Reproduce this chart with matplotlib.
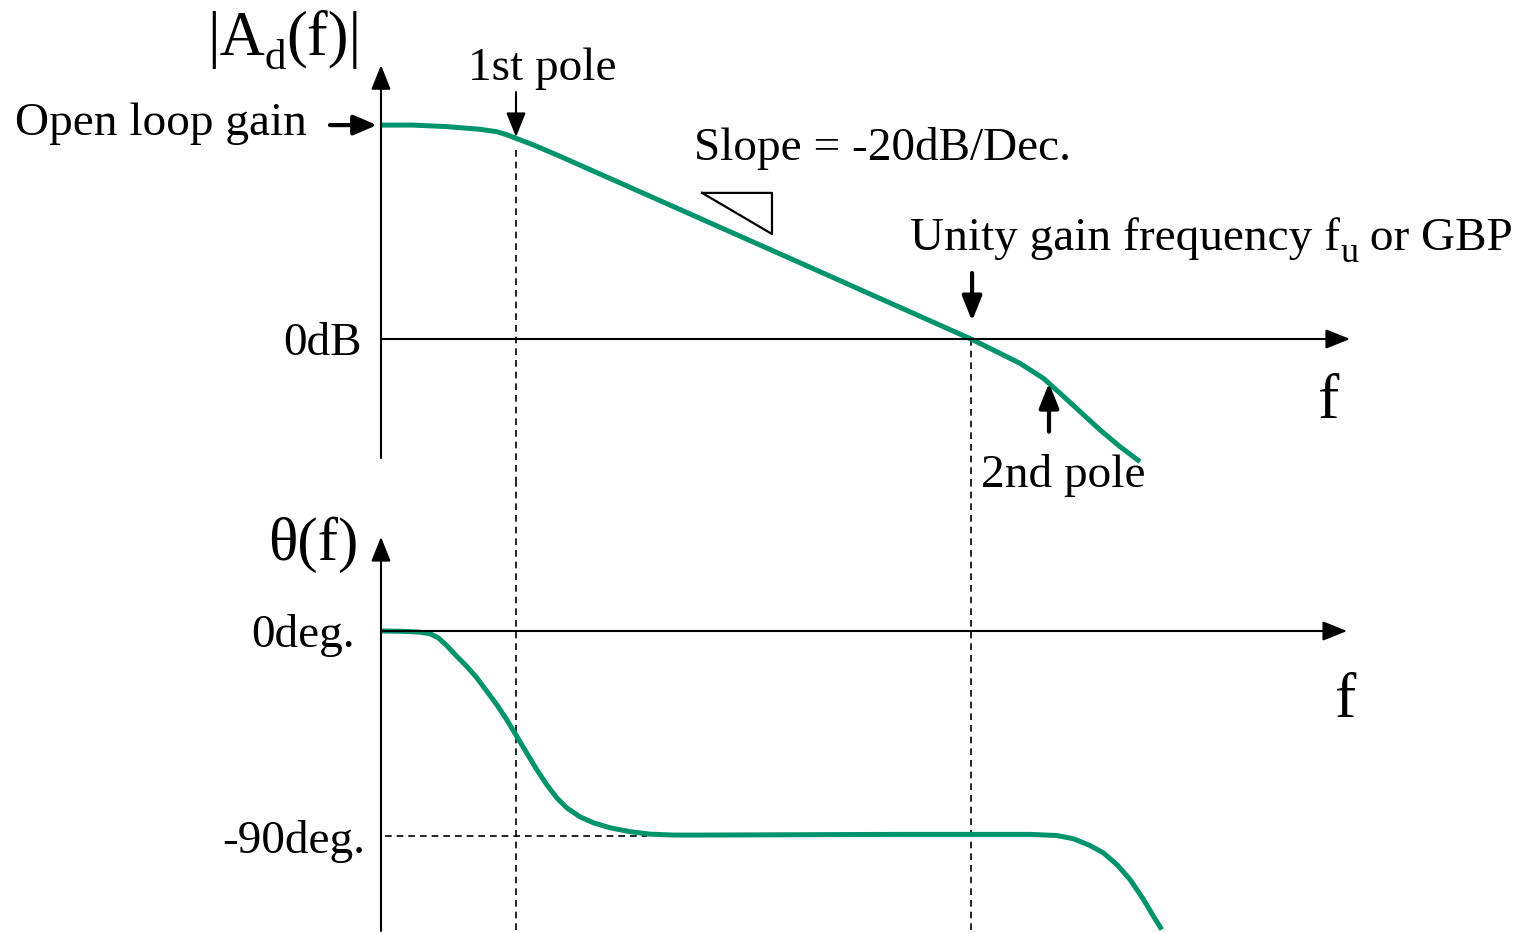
#Bode plot sketch: open loop gain and phase of an op amp

import numpy as np
import matplotlib
matplotlib.use('Agg')
import matplotlib.pyplot as plt

plt.rcParams['font.family'] = ['Liberation Serif', 'DejaVu Serif']

#x position in decades from the axis origin
mag_logf = [0.0, 0.239, 0.487, 0.733, 0.857, 0.931, 1.005, 1.128, 1.326, 1.622,
            2.363, 3.104, 4.37, 4.536, 4.733, 4.906, 5.030, 5.178, 5.326, 5.474, 5.622]
#magnitude in dB
mag_db = [71.3, 71.3, 70.8, 69.9, 69.1, 68.1, 66.8, 64.7, 60.9, 55.0,
          40.2, 25.4, 0.0, -3.7, -8.1, -13.1, -18.1, -24.2, -30.3, -35.9, -40.9]

phase_logf = [0.0, 0.141, 0.289, 0.363, 0.424, 0.487, 0.561, 0.635, 0.709, 0.783,
              0.857, 0.931, 1.005, 1.079, 1.153, 1.227, 1.301, 1.375, 1.474, 1.573,
              1.696, 1.844, 1.993, 2.165, 2.363, 3.844, 4.807, 5.005, 5.128, 5.252,
              5.350, 5.450, 5.548, 5.647, 5.721, 5.783]
phase_deg = [0.0, -0.1, -0.5, -1.2, -3.0, -6.4, -11.1, -15.5, -20.5, -26.4,
             -32.3, -38.9, -46.2, -53.5, -60.8, -67.4, -73.2, -77.6, -81.6, -84.2,
             -86.4, -88.1, -89.2, -89.6, -89.6, -89.3, -89.3, -89.8, -91.2, -94.2,
             -97.4, -102.5, -109.1, -117.8, -125.2, -131.1]

pole1 = 1.0
unity = 4.37
pole2 = 4.948
open_loop_db = 71.3

green = '#00946c'
fs = 34

fig = plt.figure(figsize=(15.26, 9.33), dpi=100)
ax1 = fig.add_axes([0, 453/933, 1, 480/933])
ax2 = fig.add_axes([0, 0, 1, 453/933])
for ax in (ax1, ax2):
    ax.set_xlim(-2.822, 8.481)
    ax.axis('off')
ax1.set_ylim(-47, 113)
ax2.set_ylim(-132.6, 66.3)
renderer = fig.canvas.get_renderer()

def arrow(ax, x0, y0, x1, y1, lw, hw=0.3, hl=0.75):
    ax.annotate('', xy=(x1, y1), xytext=(x0, y0),
                arrowprops=dict(arrowstyle='-|>,head_width=%g,head_length=%g' % (hw, hl),
                                lw=lw, color='black', shrinkA=0, shrinkB=0,
                                mutation_scale=20))

#text with a subscript, left edge at (x, y) on the baseline
def sub_text(ax, x, y, main, sub, rest, size, subsize, drop):
    t = ax.text(x, y, main, fontsize=size, ha='left', va='baseline')
    w1 = t.get_window_extent(renderer).width * 72 / fig.dpi
    s = ax.annotate(sub, xy=(x, y), xytext=(w1, -drop), textcoords='offset points',
                    fontsize=subsize, ha='left', va='baseline')
    w2 = s.get_window_extent(renderer).width * 72 / fig.dpi
    ax.annotate(rest, xy=(x, y), xytext=(w1 + w2, 0), textcoords='offset points',
                fontsize=size, ha='left', va='baseline')

#magnitude plot
arrow(ax1, 0, -39.7, 0, 91.3, 1.5)
arrow(ax1, 0, 0, 7.178, 0, 1.5)
ax1.plot([pole1, pole1], [63, -47], 'k--', lw=1.2, dashes=(4, 3), clip_on=False)
ax1.plot([unity, unity], [0, -47], 'k--', lw=1.2, dashes=(4, 3), clip_on=False)
ax1.plot(mag_logf, mag_db, color=green, lw=3.6, solid_capstyle='butt', solid_joinstyle='round')

#slope triangle
ax1.plot([2.378, 2.896, 2.896, 2.378], [48.7, 48.7, 35.0, 48.7], color='black', lw=1.6)

arrow(ax1, -0.378, open_loop_db, -0.03, open_loop_db, 3.0, 0.3, 0.7)
arrow(ax1, pole1, 82.3, pole1, 67.3, 1.5, 0.3, 0.75)
arrow(ax1, unity + 0.008, 22, unity + 0.008, 6, 3.0, 0.3, 0.75)
arrow(ax1, pole2, -30.9, pole2, -14.7, 3.0, 0.3, 0.75)

sub_text(ax1, -1.289, 94.7, '|A', 'd', '(f)|', 45, 31, 10)
ax1.text(1.193, 86.3, '1st pole', fontsize=fs, ha='center', va='baseline')
ax1.text(-1.630, 68.0, 'Open loop gain', fontsize=fs, ha='center', va='baseline')
ax1.text(3.711, 59.7, 'Slope = -20dB/Dec.', fontsize=fs, ha='center', va='baseline')
ax1.text(-0.141, -5.3, '0dB', fontsize=fs, ha='right', va='baseline')
sub_text(ax1, 3.919, 29.7, 'Unity gain frequency f', 'u', ' or GBP', fs, 26, 8.5)
ax1.text(5.052, -49.3, '2nd pole', fontsize=fs, ha='center', va='baseline')
ax1.text(7.022, -26.3, 'f', fontsize=46, ha='center', va='baseline')

#phase plot
arrow(ax2, 0, -131.7, 0, 41.3, 1.5)
arrow(ax2, 0, 0, 7.156, 0, 1.5)
ax2.plot([pole1, pole1], [66.3, -132.6], 'k--', lw=1.2, dashes=(4, 3))
ax2.plot([unity, unity], [66.3, -132.6], 'k--', lw=1.2, dashes=(4, 3))
ax2.plot([0.03, 1.97], [-90, -90], 'k--', lw=1.2, dashes=(4, 3))
ax2.plot(phase_logf, phase_deg, color=green, lw=3.6, solid_capstyle='butt', solid_joinstyle='round')

ax2.text(-0.504, 31.2, 'θ(f)', fontsize=44, ha='center', va='baseline')
ax2.text(-0.578, -7.0, '0deg.', fontsize=fs, ha='center', va='baseline')
ax2.text(-0.644, -97.5, '-90deg.', fontsize=fs, ha='center', va='baseline')
ax2.text(7.148, -37.8, 'f', fontsize=46, ha='center', va='baseline')

fig.savefig('out.png', dpi=100)
